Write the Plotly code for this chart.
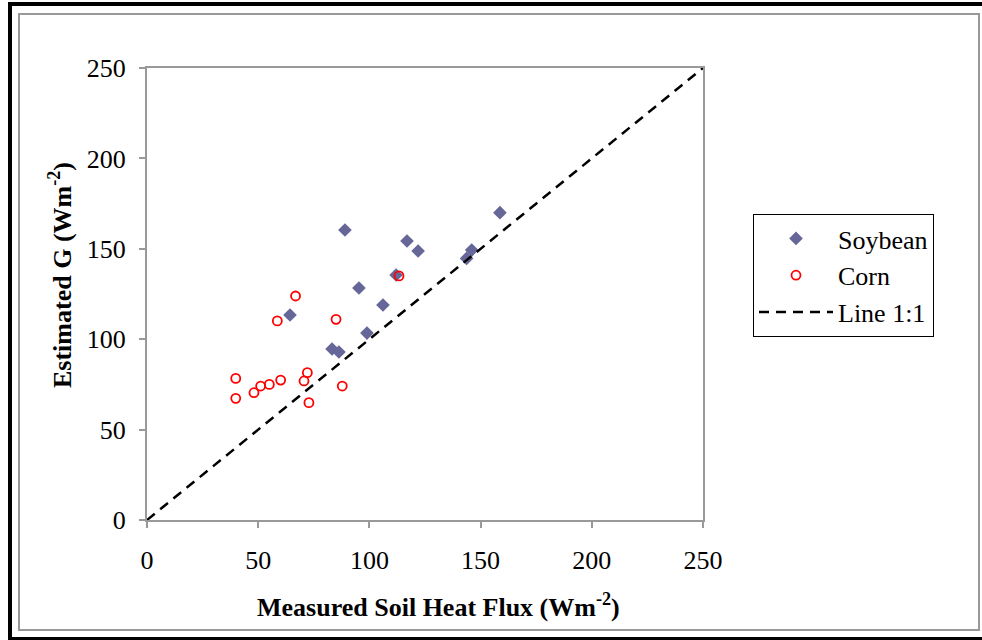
import plotly.graph_objects as go

soy_x = [89.0, 64.3, 83.2, 86.3, 95.3, 98.9, 106.1, 112.0, 116.9, 121.9, 143.7, 146.0, 158.7]
soy_y = [160.4, 113.4, 94.6, 92.9, 128.3, 103.4, 118.9, 135.5, 154.3, 148.8, 144.7, 149.3, 170.0]

corn_x = [39.9, 39.9, 48.1, 51.1, 55.0, 60.1, 58.6, 66.8, 70.6, 72.1, 72.8, 85.0, 87.8, 113.3]
corn_y = [78.3, 67.3, 70.4, 74.1, 75.0, 77.4, 110.1, 123.9, 76.9, 81.5, 64.9, 111.0, 74.1, 135.0]

line_x = [0, 250]
line_y = [0, 250]

ticks = [0, 50, 100, 150, 200, 250]
tick_labels = ["0", "50", "100", "150", "200", "250"]

W, H = 982, 640
L, R, T, B = 147, 703, 68, 520
FONT = "Liberation Serif, Times New Roman, serif"


def px(x):
    return (x - L) / (R - L)


def py(y):
    return (B - y) / (B - T)


fig = go.Figure()
fig.add_trace(go.Scatter(x=soy_x, y=soy_y, mode="markers", name="Soybean",
                         marker=dict(symbol="diamond", size=10.5, color="#666699",
                                     line=dict(width=0))))
fig.add_trace(go.Scatter(x=corn_x, y=corn_y, mode="markers", name="Corn",
                         marker=dict(symbol="circle-open", size=9, color="#ff0000",
                                     line=dict(width=1.8, color="#ff0000"))))
fig.add_trace(go.Scatter(x=line_x, y=line_y, mode="lines", name="Line 1:1",
                         line=dict(color="black", width=2.5, dash="10px,7px")))

axis_common = dict(range=[0, 250], tickvals=ticks, ticktext=tick_labels,
                   showgrid=False, zeroline=False, showline=True, mirror=True,
                   linecolor="#999999", linewidth=2, ticks="outside", ticklen=6,
                   tickwidth=2, tickcolor="#999999",
                   tickfont=dict(family=FONT, size=26, color="black"))

fig.update_xaxes(**axis_common)
fig.update_yaxes(**axis_common)
fig.update_yaxes(ticklabelstandoff=8)
fig.update_xaxes(ticklabelstandoff=10)

shapes = [
    # outer black frame (left, top, bottom)
    dict(type="line", xref="paper", yref="paper", x0=px(10), x1=px(10), y0=py(640), y1=py(2),
         line=dict(color="black", width=4), layer="below"),
    dict(type="line", xref="paper", yref="paper", x0=px(8), x1=px(982), y0=py(4), y1=py(4),
         line=dict(color="black", width=4), layer="below"),
    dict(type="line", xref="paper", yref="paper", x0=px(8), x1=px(982), y0=py(638.5), y1=py(638.5),
         line=dict(color="black", width=3), layer="below"),
    # inner gray frame
    dict(type="rect", xref="paper", yref="paper", x0=px(19), x1=px(979), y0=py(630), y1=py(14),
         line=dict(color="#999999", width=2), layer="below"),
]

annotations = [
    dict(text="<b>Measured Soil Heat Flux (Wm<sup>-2</sup>)</b>", xref="paper", yref="paper",
         x=px(438), y=py(605), xanchor="center", yanchor="middle", showarrow=False,
         font=dict(family=FONT, size=26, color="black")),
    dict(text="<b>Estimated G (Wm<sup>-2</sup>)</b>", xref="paper", yref="paper",
         x=px(60), y=py(275), xanchor="center", yanchor="middle", showarrow=False,
         textangle=-90, font=dict(family=FONT, size=26, color="black")),
]

fig.update_layout(
    width=W, height=H,
    margin=dict(l=L, r=W - R, t=T, b=H - B),
    paper_bgcolor="white", plot_bgcolor="white",
    showlegend=True,
    legend=dict(x=px(753), y=py(214), xanchor="left", yanchor="top",
                bordercolor="black", borderwidth=1, bgcolor="white",
                font=dict(family=FONT, size=26, color="black"),
                itemwidth=74, tracegroupgap=0),
    shapes=shapes,
    annotations=annotations,
)

fig.write_html("out.html", config={"displayModeBar": False},
               post_script="document.body.style.margin='0';document.body.style.overflow='hidden';")
